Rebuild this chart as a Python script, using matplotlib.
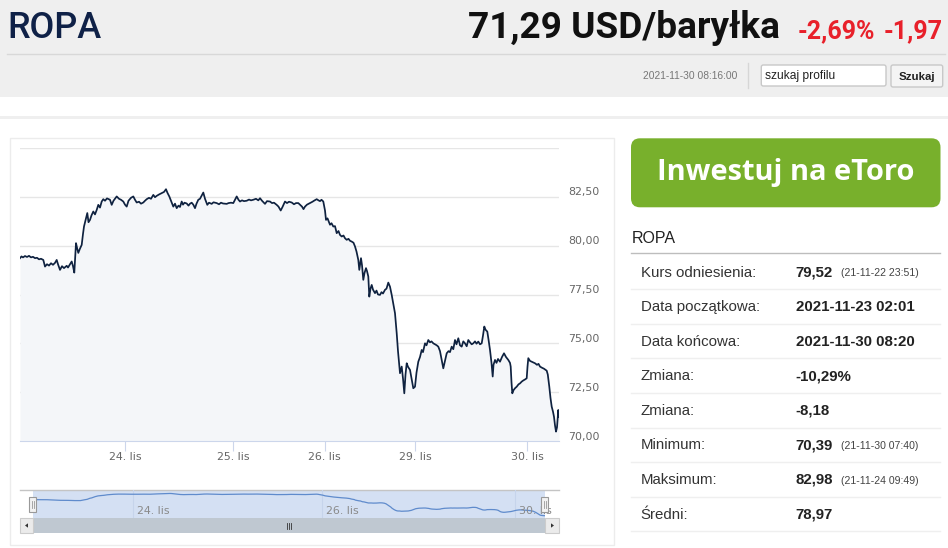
import numpy as np
import pandas as pd
import matplotlib
matplotlib.use("Agg")
import matplotlib.pyplot as plt
from matplotlib.patches import Rectangle, FancyBboxPatch, Polygon
from matplotlib.transforms import offset_copy, blended_transform_factory

W, H = 948, 548

# header info
name = 'ROPA'
quote = '71,29 USD/baryłka'
change_pct = '-2,69%'
change_abs = '-1,97'
stamp = '2021-11-30 08:16:00'

# price series (ordinal position on the stock axis, price in USD)
pos = [0, 1.5, 3, 5, 7, 9, 11, 13, 15, 17, 19, 21, 23.3, 25, 27, 29, 31, 33, 35, 36.7,
       38, 40, 42, 44, 46.7, 48, 50, 51.7, 53, 54.3, 56, 57, 58.3, 60, 61.7, 63, 64, 65.5,
       67.3, 68.5, 70, 71.5, 73.3, 75, 76.7, 78.3, 80, 81.7, 83.3, 85, 87, 90, 91.7, 93.5,
       96.7, 99, 101, 103.3, 105, 106.7, 108.5, 111, 113.3, 115, 116.7, 119, 121, 123.3,
       125, 126.7, 129, 131, 133.3, 135, 136.7, 139, 141.7, 144, 146, 147.5, 149.3, 151,
       153.3, 155, 156.7, 158.5, 160, 161.7, 163, 164.5, 166.7, 168.5, 170, 171.7, 173.3,
       175, 176.5, 178.3, 180, 181.5, 183.3, 185, 187.3, 189, 191.7, 193.5, 196.7, 199,
       201, 203, 206.7, 208.5, 211, 213.3, 215, 216.7, 218.5, 220, 222, 224, 226.7, 229,
       231, 233.3, 236, 238.3, 240, 242, 243.5, 245, 247, 250, 252, 254, 256.7, 258.5,
       260.7, 262.5, 265, 267, 269, 271.7, 274, 276, 278.3, 280, 282, 283.5, 285, 287,
       290, 292.5, 294, 296.7, 298.5, 300, 301.5, 303.3, 305, 306, 307.5, 310, 311.5,
       313.3, 315, 316.7, 318.5, 320, 321.7, 323.5, 325, 326.7, 328.5, 330, 331.7, 333.5,
       335, 336.5, 338.3, 339.3, 341, 342, 343.3, 344.5, 346, 347, 348.3, 349.3, 350.5,
       351.7, 353, 355, 356.5, 358, 360, 361.5, 363, 365, 366.5, 368.3, 370, 371.7, 373,
       375, 376.7, 378, 380, 381.7, 383, 384.3, 385.5, 386.7, 388, 390, 391.5, 393.3, 395,
       396.5, 398.3, 400, 401.7, 403, 405, 406.5, 408.3, 410, 411.5, 413.3, 415, 416.7,
       418.3, 420, 421.7, 423.3, 425, 426.7, 428.5, 430, 431.7, 433.3, 435, 436.5, 438.3,
       440, 441.7, 443.3, 445, 446.7, 448.3, 450, 451.7, 453.3, 455, 456.5, 458.3, 460,
       461.7, 463, 464.3, 465.5, 467.3, 468.5, 470, 471.5, 472.7, 473.5, 475, 476.5, 478,
       480, 482, 484, 486, 488.3, 490, 490.7, 491.5, 492.3, 493.5, 495, 496.7, 498.5, 500,
       501.7, 503.3, 505, 506.7, 507.5, 508.3, 510, 511.7, 513.3, 515, 517, 518.5, 520,
       522, 524, 526.7, 527.8, 529.3, 530.5, 531.7, 533, 534, 535, 536, 537, 538.3, 539]
price = [79.36, 79.45, 79.40, 79.47, 79.42, 79.48, 79.40, 79.43, 79.36, 79.38, 79.30, 79.33,
         79.27, 78.93, 79.05, 78.98, 79.10, 79.02, 79.12, 79.27, 79.05, 78.76, 78.95, 78.85,
         78.97, 78.88, 79.05, 79.19, 78.95, 78.62, 80.13, 79.90, 79.63, 79.85, 80.04, 80.60,
         80.98, 81.30, 81.67, 81.20, 81.32, 81.55, 81.75, 81.60, 81.83, 82.09, 81.95, 82.26,
         82.38, 82.30, 82.42, 82.35, 82.09, 82.30, 82.52, 82.40, 82.35, 82.26, 82.10, 82.00,
         82.30, 82.45, 82.52, 82.35, 82.21, 82.25, 82.15, 82.21, 82.30, 82.38, 82.45, 82.40,
         82.60, 82.48, 82.55, 82.62, 82.69, 82.75, 82.89, 82.70, 82.52, 82.30, 82.00, 82.15,
         81.92, 82.05, 81.98, 82.26, 82.10, 82.20, 82.16, 82.05, 82.15, 82.20, 82.10, 81.92,
         82.15, 82.35, 82.40, 82.55, 82.72, 82.40, 82.09, 82.20, 82.14, 82.22, 82.18, 82.12,
         82.20, 82.16, 82.14, 82.18, 82.20, 82.18, 82.35, 82.52, 82.35, 82.26, 82.32, 82.28,
         82.30, 82.36, 82.32, 82.35, 82.40, 82.32, 82.43, 82.30, 82.22, 82.14, 82.28, 82.26,
         82.18, 82.20, 82.09, 82.00, 81.80, 81.98, 82.26, 82.18, 82.25, 82.21, 82.12, 82.18,
         82.18, 82.10, 82.00, 81.87, 82.00, 82.10, 82.18, 82.25, 82.30, 82.38, 82.32, 82.28,
         82.35, 82.26, 81.80, 81.32, 81.40, 81.07, 81.15, 80.98, 81.00, 80.64, 80.75, 80.55,
         80.47, 80.52, 80.38, 80.30, 80.35, 80.25, 80.21, 80.15, 79.96, 79.70, 79.27, 78.76,
         79.36, 79.00, 78.25, 78.60, 78.85, 78.70, 78.42, 77.39, 77.80, 77.99, 77.75, 77.57,
         77.70, 77.50, 77.48, 77.62, 77.55, 77.74, 77.80, 78.11, 77.90, 77.48, 77.10, 76.54,
         75.52, 74.60, 73.47, 73.81, 73.20, 72.44, 73.40, 73.98, 73.80, 73.64, 73.20, 72.70,
         72.78, 73.50, 74.06, 74.30, 74.66, 74.55, 75.00, 74.90, 75.17, 75.05, 75.10, 75.00,
         74.95, 74.90, 74.83, 74.60, 74.15, 73.72, 74.10, 74.49, 74.60, 74.55, 74.83, 74.70,
         75.17, 74.95, 75.26, 74.90, 74.83, 75.10, 75.00, 74.85, 75.17, 75.05, 74.95, 75.00,
         75.10, 74.98, 75.09, 74.95, 75.00, 75.40, 75.86, 75.70, 75.60, 75.20, 74.66, 74.00,
         73.30, 73.90, 74.15, 74.00, 74.20, 74.06, 74.30, 74.49, 74.30, 74.15, 74.00, 73.81,
         73.00, 72.44, 72.60, 72.70, 72.78, 72.90, 72.95, 73.04, 73.10, 73.15, 73.21, 73.80,
         74.24, 74.10, 74.06, 74.02, 73.98, 73.90, 73.95, 73.81, 73.75, 73.70, 73.60, 73.40,
         72.78, 72.20, 71.76, 71.50, 71.24, 70.80, 70.48, 70.70, 71.59, 71.24]

day_pos = [105, 213, 304.5, 395, 507]
day_labels = ['24. lis', '25. lis', '26. lis', '29. lis', '30. lis']
nav_pos = [105, 304.5, 507]
nav_labels = ['24. lis', '26. lis', '30. lis']
y_ticks = [70, 72.5, 75, 77.5, 80, 82.5, 85]

# side table
row_labels = ['Kurs odniesienia:', 'Data początkowa:', 'Data końcowa:', 'Zmiana:',
              'Zmiana:', 'Minimum:', 'Maksimum:', 'Średni:']
row_values = ['79,52', '2021-11-23 02:01', '2021-11-30 08:20', '-10,29%',
              '-8,18', '70,39', '82,98', '78,97']
row_notes = ['(21-11-22 23:51)', '', '', '', '', '(21-11-30 07:40)', '(21-11-24 09:49)', '']


def pt(px):
    return px * 0.72


fig = plt.figure(figsize=(W / 100, H / 100), dpi=100)


def px_axes(x0, y0, x1, y1):
    return fig.add_axes([x0 / W, 1 - y1 / H, (x1 - x0) / W, (y1 - y0) / H])


#Page background - - - - - - - - - - - - - - - - - - -
bg = fig.add_axes([0, 0, 1, 1])
bg.set_xlim(0, W)
bg.set_ylim(H, 0)
bg.axis('off')

bg.add_patch(Rectangle((0, 0), W, 96.7, color='#efefef', lw=0))
bg.plot([7, 945], [54.3, 54.3], color='#d8d8d8', lw=1)
bg.add_patch(Rectangle((0, 116), W, 2.7, color='#efefef', lw=0))

bg.text(7, 37.5, name, fontsize=pt(36), family='Roboto', weight='medium',
        color='#0f2147', va='baseline')
bg.text(780, 38, quote, fontsize=pt(37), family='Roboto', weight='bold',
        color='#111111', va='baseline', ha='right')
bg.text(875, 38, change_pct, fontsize=pt(25), family='Roboto', weight='bold',
        color='#e8202a', va='baseline', ha='right')
bg.text(943, 38, change_abs, fontsize=pt(25), family='Roboto', weight='bold',
        color='#e8202a', va='baseline', ha='right')

bg.text(737, 76, stamp, fontsize=pt(10.2), family='Liberation Sans', color='#777777',
        ha='right', va='center')
bg.plot([748.3, 748.3], [63, 88], color='#d6d6d6', lw=1)
bg.add_patch(FancyBboxPatch((761.3, 65), 124.7, 21, boxstyle='round,pad=0,rounding_size=2',
                            fc='white', ec='#c8c8c8', lw=1))
bg.text(765, 76, 'szukaj profilu', fontsize=pt(12), family='Liberation Sans',
        color='#222222', va='center')
bg.add_patch(FancyBboxPatch((891, 65), 51.7, 22, boxstyle='round,pad=0,rounding_size=2',
                            fc='#f4f4f4', ec='#c8c8c8', lw=1))
bg.text(917, 77, 'Szukaj', fontsize=pt(11.5), family='Liberation Sans', weight='bold',
        color='#222222', va='center', ha='center')

# chart container
bg.add_patch(Rectangle((10, 138.3), 604, 407, fc='white', ec='#ececec', lw=1))

# navigator mask + scrollbar
bg.plot([20, 559], [490, 490], color='#c4c4c4', lw=1)
bg.add_patch(Rectangle((33, 490), 512, 28.3, color='#d4e0f3', lw=0))
bg.add_patch(Rectangle((20, 518.3), 539, 14.4, color='#f2f2f2', lw=0))
bg.add_patch(Rectangle((33, 518.3), 512, 14.4, color='#bfc8d1', lw=0))
bg.add_patch(Rectangle((20, 518.3), 13, 14.4, fc='#ebebeb', ec='#cccccc', lw=0.8))
bg.add_patch(Rectangle((545, 518.3), 14, 14.4, fc='#ebebeb', ec='#cccccc', lw=0.8))
bg.add_patch(Polygon([(25, 525.5), (28, 523.3), (28, 527.7)], color='#333333', lw=0))
bg.add_patch(Polygon([(554, 525.5), (551, 523.3), (551, 527.7)], color='#333333', lw=0))
for xr in [287, 289, 291]:
    bg.plot([xr, xr], [522.5, 528.5], color='#333333', lw=0.6)

# right panel
bg.add_patch(FancyBboxPatch((631, 138.3), 309.5, 69, boxstyle='round,pad=0,rounding_size=9',
                            fc='#78b02c', ec='none'))
bg.text(785.5, 172.5, 'Inwestuj na eToro', fontsize=pt(29), family='Open Sans',
        weight='bold', color='white', ha='center', va='center')
bg.text(632, 243.3, 'ROPA', fontsize=pt(16), family='Liberation Sans', color='#222222',
        va='baseline')
bg.plot([631, 940], [253, 253], color='#bdbdbd', lw=1)

for k in range(len(row_labels)):
    base = 276.7 + 34.55 * k
    bg.text(640.7, base, row_labels[k], fontsize=pt(15), family='Liberation Sans',
            color='#333333', va='baseline')
    bg.text(795.7, base, row_values[k], fontsize=pt(15), family='Liberation Sans',
            weight='bold', color='#222222', va='baseline')
    if row_notes[k]:
        bg.text(840.7, base - 0.5, row_notes[k], fontsize=pt(10.5),
                family='Liberation Sans', color='#444444', va='baseline')
    sep = 289.3 + 34.55 * k
    bg.plot([631, 940], [sep, sep], color='#efefef', lw=1)

#Main chart - - - - - - - - - - - - - - - - - - -
ax = px_axes(20, 148, 559, 441)
ax.patch.set_alpha(0)
ax.set_xlim(0, 539)
ax.set_ylim(70, 85)
ax.fill_between(pos, price, 70, color='#f4f6f9', lw=0)
ax.plot(pos, price, color='#0f2240', lw=1.25)
ax.set_yticks(y_ticks)
ax.set_yticklabels([])
ax.tick_params(axis='y', length=0)
ax.grid(axis='y', color='#e6e6e6', lw=1)
ax.set_axisbelow(True)
for s in ['top', 'left', 'right']:
    ax.spines[s].set_visible(False)
ax.spines['bottom'].set_color('#ccd6eb')
ax.set_xticks(day_pos)
ax.set_xticklabels(day_labels, fontsize=pt(11), color='#666666', family='DejaVu Sans')
ax.tick_params(axis='x', length=7, color='#ccd6eb', pad=1)

lab_tr = offset_copy(blended_transform_factory(ax.transAxes, ax.transData), fig=fig,
                     x=9, y=4.5, units='dots')
for v in y_ticks[:-1]:
    ax.text(1, v, f'{v:.2f}'.replace('.', ','), transform=lab_tr, ha='left', va='center',
            fontsize=pt(11), color='#666666', family='DejaVu Sans', clip_on=False)

#Navigator - - - - - - - - - - - - - - - - - - -
smooth = pd.Series(price).rolling(7, center=True, min_periods=1).mean()
nav = px_axes(33, 490, 545, 518.3)
nav.patch.set_alpha(0)
nav.set_xlim(0, 539)
nav.set_ylim(69.6, 84.5)
for p in nav_pos:
    nav.axvline(p, color='#c6d4eb', lw=0.8)
nav.plot(pos, smooth, color='#5f8bcc', lw=0.9)
nav_tr = offset_copy(blended_transform_factory(nav.transData, nav.transAxes), fig=fig,
                     x=4, y=0, units='dots')
for p, lbl in zip(nav_pos, nav_labels):
    nav.text(p, 0.27, lbl, transform=nav_tr, ha='left', va='center', fontsize=pt(11),
             color='#8a8a8a', family='DejaVu Sans', clip_on=False)
nav.set_xticks([])
nav.set_yticks([])
for s in nav.spines.values():
    s.set_visible(False)

# navigator handles on top
ov = fig.add_axes([0, 0, 1, 1])
ov.set_xlim(0, W)
ov.set_ylim(H, 0)
ov.axis('off')
for hx in [33, 545]:
    ov.add_patch(Rectangle((hx - 3.5, 497), 7, 15, fc='#f2f2f2', ec='#999999', lw=0.8))
    ov.plot([hx - 1, hx - 1], [501, 508], color='#999999', lw=0.6)
    ov.plot([hx + 1, hx + 1], [501, 508], color='#999999', lw=0.6)

fig.savefig('out.png', dpi=100)
